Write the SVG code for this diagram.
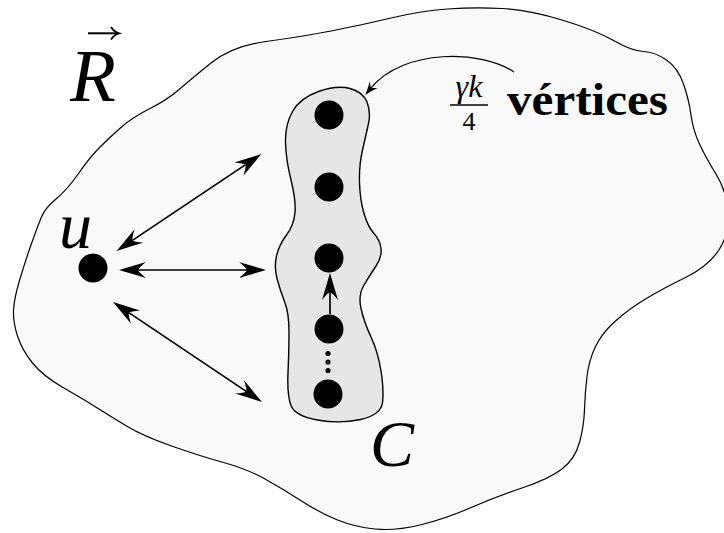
<svg xmlns="http://www.w3.org/2000/svg" width="724" height="533" viewBox="0 0 724 533">
<defs>
<style>
.blobR{fill:#f9f9f9;stroke:#000;stroke-width:1.2}
.blobC{fill:#e6e6e6;stroke:#000;stroke-width:1.4}
.dot{fill:#000}
.edge{fill:none;stroke:#000;stroke-width:1.7}
.thin{fill:none;stroke:#000;stroke-width:1.2}
.it{font-family:"Liberation Serif",serif;font-style:italic;fill:#000}
.rm{font-family:"Liberation Serif",serif;fill:#000}
</style>
<marker id="arr" viewBox="-28 -9 29 18" refX="-19" refY="0" markerWidth="29" markerHeight="18" markerUnits="userSpaceOnUse" orient="auto-start-reverse">
<path d="M0,0 Q-12,-3.5 -27,-8 Q-20,-2.5 -19,0 Q-20,2.5 -27,8 Q-12,3.5 0,0 Z" fill="#000"/>
</marker>
<marker id="arrS" viewBox="-14 -6 15 12" refX="-9" refY="0" markerWidth="15" markerHeight="12" markerUnits="userSpaceOnUse" orient="auto">
<path d="M0,0 Q-6,-1.8 -13,-5 Q-10,-1.5 -9,0 Q-10,1.5 -13,5 Q-6,1.8 0,0 Z" fill="#000"/>
</marker>
</defs>

<g id="region-R">
<path class="blobR" d="M211,63 Q232,46 266,41.5 Q300,37 331,31 Q362,25 391,18 Q420,11 447.5,9 Q475,7 502,8.5 Q529,10 562,20 Q595,30 613.5,40.5 Q632,51 643.5,51.5 Q655,52 666.5,60 Q678,68 683.5,84 Q689,100 691,115 Q693,130 699.5,144 Q706,158 716,174 Q726,190 728,211 Q730,232 719.5,249 Q709,266 685.5,277.5 Q662,289 645.5,299 Q629,309 615.5,321 Q602,333 595.5,346.5 Q589,360 587,376.5 Q585,393 584.5,409.5 Q584,426 579.5,442.5 Q575,459 562,469 Q549,479 522,488 Q495,497 470,508 Q445,519 420,525 Q395,531 375,529 Q355,527 337.5,520 Q320,513 301.5,501 Q283,489 265,479 Q247,469 223.5,462.5 Q200,456 171.5,446 Q143,436 126.5,426 Q110,416 96.5,407.5 Q83,399 63,387.5 Q43,376 32.5,363 Q22,350 17.5,336 Q13,322 13.5,310.5 Q14,299 19.5,280.5 Q25,262 31,245 Q37,228 41,218 Q45,208 56,199 Q67,190 78.5,173.5 Q90,157 100,147 Q110,137 121.5,127 Q133,117 150,108.5 Q167,100 178.5,90 Q190,80 211,63 Z"/>
<text class="it" x="70" y="101" font-size="75">R</text>
<path d="M88,33.3 L117,33.3" stroke="#000" stroke-width="2" fill="none"/>
<path d="M111,27 Q114,32 119,33.3 Q114,34.6 111,39.6" stroke="#000" stroke-width="1.8" fill="none"/>
</g>

<g id="cycle-C">
<path class="blobC" d="M318.5,91.5 Q337,85 350,88.5 Q363,92 367,102 Q371,112 368.5,123.5 Q366,135 362.5,150 Q359,165 359.5,182.5 Q360,200 364,213.5 Q368,227 374,233.5 Q380,240 381,248.5 Q382,257 376,266 Q370,275 364,285 Q358,295 361,308.5 Q364,322 371,337 Q378,352 381,371 Q384,390 382.5,402.5 Q381,415 360.5,419.5 Q340,424 317.5,420 Q295,416 291,405.5 Q287,395 288,372.5 Q289,350 289,331.5 Q289,313 284.5,301.5 Q280,290 277,278.5 Q274,267 276.5,256 Q279,245 286.5,235 Q294,225 295,212.5 Q296,200 291,180 Q286,160 285.5,142.5 Q285,125 292.5,111.5 Q300,98 318.5,91.5 Z"/>
<text class="it" x="370" y="466" font-size="66">C</text>
</g>

<g id="node-u">
<circle class="dot" cx="93" cy="268" r="14.5"/>
<text class="it" x="59" y="248" font-size="66">u</text>
</g>
<g id="node-c1"><circle class="dot" cx="329" cy="115" r="14.5"/></g>
<g id="node-c2"><circle class="dot" cx="329" cy="187" r="14.5"/></g>
<g id="node-c3"><circle class="dot" cx="329" cy="258" r="14.5"/></g>
<g id="node-c4"><circle class="dot" cx="329" cy="329" r="14.5"/></g>
<g id="node-c5"><circle class="dot" cx="328" cy="394" r="14.5"/></g>
<g id="ellipsis">
<circle class="dot" cx="328" cy="353.5" r="2.6"/>
<circle class="dot" cx="328" cy="362" r="2.6"/>
<circle class="dot" cx="328" cy="370.5" r="2.6"/>
</g>

<g id="label-vertices">
<text class="it" x="469" y="97" font-size="32" text-anchor="middle">γk</text>
<line x1="450" y1="105" x2="488" y2="105" stroke="#000" stroke-width="1.5"/>
<text class="rm" x="469" y="130" font-size="26" text-anchor="middle">4</text>
<text class="rm" x="507" y="115" font-size="46" font-weight="bold" textLength="161" lengthAdjust="spacingAndGlyphs">vértices</text>
</g>

<g id="connectors">
<path class="edge" d="M132.4,240.4 L245.6,164.6" marker-start="url(#arr)" marker-end="url(#arr)"/>
<path class="edge" d="M138,270 L247,270" marker-start="url(#arr)" marker-end="url(#arr)"/>
<path class="edge" d="M128.8,312.6 L246.2,391.4" marker-start="url(#arr)" marker-end="url(#arr)"/>
<path class="edge" d="M330,314 L330,292" marker-end="url(#arr)"/>
<path class="thin" d="M514,72 C482,50 404,48 371,88" marker-end="url(#arrS)"/>
</g>
</svg>
